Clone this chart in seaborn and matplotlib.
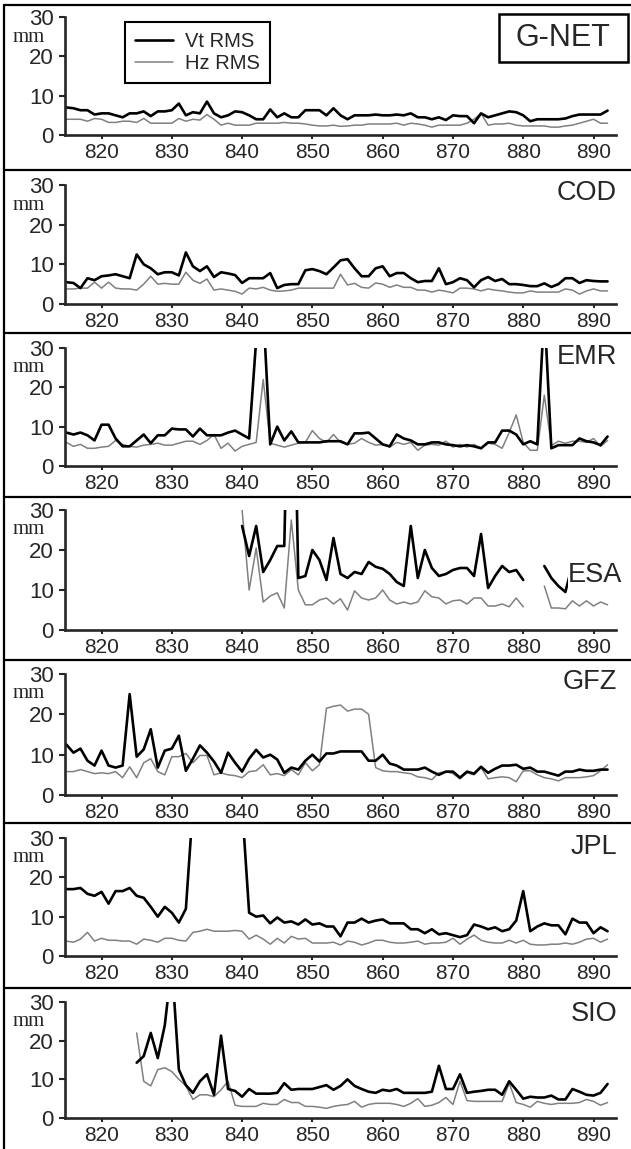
import numpy as np
import pandas as pd
import matplotlib
matplotlib.use('Agg')
import matplotlib.pyplot as plt
from matplotlib.lines import Line2D
from matplotlib.patches import Rectangle
import seaborn as sns

nan = np.nan
days = list(range(815, 893))

# G-NET
gnet_vt = [7, 6.8, 6.3, 6.3, 5.2, 5.5, 5.5, 5, 4.5, 5.5,
           5.5, 6, 4.8, 6, 6, 6.3, 8, 5, 5.8, 5.5,
           8.5, 5.5, 4.5, 5, 6, 5.8, 5, 4, 4, 6.5,
           4.5, 5.5, 4.5, 4.5, 6.3, 6.3, 6.3, 5, 6.8, 5,
           4, 5, 5, 5, 5.2, 5, 5, 5.2, 5, 5.5,
           4.5, 4.5, 4, 4.5, 3.8, 5, 4.8, 4.8, 3, 5.5,
           4.5, 5, 5.5, 6, 5.8, 5, 3.5, 4, 4, 4,
           4, 4.2, 4.8, 5.2, 5.2, 5.2, 5.2, 6.2]
gnet_hz = [4, 4, 4, 3.5, 4.2, 4, 3.2, 3.2, 3.5, 3.5,
           3.2, 4.2, 3, 3, 3, 3, 4.2, 3.5, 4, 3.8,
           5.2, 4, 2.5, 3, 2.5, 2.5, 2.5, 3, 3, 3,
           3, 3.2, 3, 3, 2.8, 2.5, 2.3, 2.3, 2.5, 2.2,
           2.3, 2.5, 2.5, 2.8, 2.8, 2.8, 2.8, 3, 2.5, 3,
           2.8, 2.5, 2, 2.5, 2.5, 2.5, 2.5, 3, 4, 5.5,
           2.5, 2.8, 2.8, 3, 2.5, 2.3, 2.3, 2.3, 2.3, 2,
           2, 2.3, 2.5, 3, 3.5, 4, 3, 3]

# COD
cod_vt = [5.5, 5.3, 4, 6.5, 6, 7, 7.2, 7.5, 7, 6.5,
          12.5, 10, 9, 7.5, 8, 8, 7.2, 13, 9.5, 8.3,
          9.5, 6.8, 8, 7.7, 7.3, 5.3, 6.5, 6.5, 6.5, 7.8,
          4, 4.8, 5, 5, 8.5, 8.8, 8.3, 7.5, 9.2, 11,
          11.3, 9, 7, 7, 9, 9.5, 7, 7.8, 7.8, 6.5,
          5.5, 5.8, 5.8, 9, 5, 5.5, 6.5, 6, 4.2, 6,
          6.8, 5.8, 6.3, 5, 5, 4.8, 4.5, 4.5, 5.2, 4.3,
          5, 6.5, 6.5, 5.3, 6, 5.8, 5.7, 5.7]
cod_hz = [3.8, 3.8, 4, 4, 5.5, 4, 5.5, 4, 3.8, 3.8,
          3.5, 5, 7, 5, 5.2, 5, 5, 8, 6, 5.2,
          6.3, 3.5, 3.8, 3.5, 3.2, 2.5, 4, 3.8, 4.2, 3.5,
          3.2, 3.3, 3.5, 4, 4, 4, 4, 4, 4, 7.5,
          4.8, 5.2, 4.2, 4, 5.3, 5, 4.2, 4.8, 4.2, 4.2,
          3.5, 3.5, 3, 3.5, 3.2, 2.8, 4, 4, 3.8, 3.3,
          3.8, 3.5, 3.3, 3, 2.8, 2.8, 3.3, 3, 3, 3,
          3, 3.8, 3.5, 2.5, 3.3, 3.8, 3.3, 3.3]

# EMR
emr_vt = [8.5, 8, 8.5, 7.8, 6.5, 10.5, 10.5, 7, 5, 5,
          6.5, 8, 5.8, 7.8, 7.8, 9.5, 9.3, 9.3, 7.5, 9.5,
          7.8, 7.8, 7.8, 8.5, 9, 8, 7, 32, 40, 5.5,
          10, 6.5, 8.8, 6, 6, 6, 6, 6.3, 6.3, 6.3,
          5.5, 8.3, 8.3, 8.5, 7, 5.5, 5, 8, 7, 6.5,
          5.5, 5.5, 6, 6, 5.5, 5.3, 5, 5.3, 5, 4.5,
          6, 6, 9, 9, 8, 5.5, 6.3, 5.5, 40, 4.5,
          5.3, 5.3, 5.3, 7, 6.3, 6, 5.3, 7.5]
emr_hz = [6, 5, 5.5, 4.5, 4.5, 4.8, 5, 6.5, 5.5, 5,
          4.8, 5.3, 5.5, 5.8, 5.3, 5.3, 5.8, 6.3, 6.3, 5.5,
          6.5, 8, 4.5, 5.8, 3.8, 5, 5.5, 6, 22, 5.8,
          5.3, 4.8, 5.3, 5.8, 6, 9, 7, 6, 8, 6,
          5.5, 5.8, 7, 6, 5.3, 5.5, 4.8, 6, 5.5, 6,
          4, 5.3, 5.5, 5.3, 6.3, 4.8, 5.5, 4.8, 5.5, 4.5,
          5.8, 5.5, 4.5, 8.5, 13, 6, 4, 4, 18, 5.2,
          6.3, 5.8, 6.3, 6.3, 6, 7, 5, 6.5]

# ESA (no solutions before day 840)
esa_vt = [nan] * 20 + [
          nan, nan, nan, nan, nan, 26, 18.5, 26, 14.5, 17.5,
          21, 21, 100, 13, 13.5, 20, 17.5, 12.5, 23, 14,
          13, 14.5, 14, 17, 15.8, 15.3, 14, 12, 11, 26,
          13, 20, 15.5, 13.5, 14, 15, 15.5, 15.5, 13.5, 24,
          10.5, 13.5, 16, 14.5, 15, 12.5, nan, nan, 16, 13,
          11, 9.5, 16.5, 14, 14, 14, 14, 14]
esa_hz = [nan] * 20 + [
          nan, nan, nan, nan, nan, 30, 10, 20.5, 7, 8.5,
          9.3, 5.5, 27.5, 10, 6.3, 6.3, 7.5, 8, 6.5, 7.8,
          5, 9.8, 8, 7.5, 8, 10, 7.5, 6.5, 7, 6.5,
          7, 9.8, 8.3, 8, 6.5, 7.3, 7.5, 6.5, 8, 8,
          6, 6, 6.5, 5.8, 8, 5.8, nan, nan, 11, 5.5,
          5.5, 5.3, 7.3, 6, 7.3, 6, 7, 6.3]

# GFZ
gfz_vt = [12.5, 10.5, 11.5, 8.5, 7.3, 11, 7.3, 6.8, 7.3, 25,
          9.5, 11.3, 16.3, 6.8, 11, 11.5, 14.7, 6, 9, 12.3,
          10.5, 8.3, 5.5, 10.5, 8, 5.8, 9, 11.2, 9.3, 10,
          8.8, 5.5, 6.8, 6.3, 8.5, 10, 8.3, 10.3, 10.3, 10.8,
          10.8, 10.8, 10.8, 8.5, 8.5, 10, 7.8, 7.3, 6.3, 6.3,
          6.3, 6.8, 5.8, 5, 5.8, 5.8, 4.3, 5.8, 5.3, 7,
          5.5, 6.5, 7.3, 7.3, 7.5, 6.5, 6.8, 5.8, 5.8, 5.3,
          4.8, 5.8, 5.8, 6.3, 6, 6, 6.3, 6.3]
gfz_hz = [5.8, 5.8, 6.3, 5.8, 5.3, 5.5, 5.3, 5.8, 4.3, 7,
          4.3, 8, 9, 5.8, 5, 9.5, 9.5, 10.3, 8, 9.8,
          9.8, 5, 5.5, 5, 4.8, 4.3, 5.8, 6, 7.5, 5,
          5.3, 4.8, 6.3, 5, 8, 6, 7.5, 21.5, 22, 22.3,
          20.8, 21.3, 21.3, 20, 6.8, 6, 5.8, 5.8, 5.5, 5.3,
          4.5, 4.3, 3.8, 5.5, 5.8, 5.3, 4, 5.5, 5, 6.8,
          4, 4.3, 4.5, 4.3, 3.3, 6, 6, 5, 4.3, 4,
          3.5, 4.3, 4.3, 4.3, 4.5, 4.8, 6, 7.5]

# JPL
jpl_vt = [17, 17, 17.3, 15.8, 15.3, 16.3, 13.3, 16.5, 16.5, 17.3,
          15.3, 14.8, 12.5, 10, 12.5, 11, 8.5, 12, 38, 40,
          40, 40, 40, 40, 40, 38, 11, 10, 10.3, 8.3,
          9.8, 8.5, 8.8, 8, 9.3, 8, 8.3, 7.5, 7.5, 5,
          8.5, 8.5, 9.5, 8.5, 9, 9.3, 8.3, 8.3, 8.3, 6.8,
          6.8, 5.8, 6.8, 5.5, 5.8, 5.3, 4.8, 5.3, 8, 7.5,
          6.8, 7.3, 6.3, 6.8, 9, 16.5, 6.3, 7.5, 8.3, 7.8,
          7.8, 5.5, 9.5, 8.5, 8.5, 5.8, 7.3, 6.3]
jpl_hz = [3.8, 3.5, 4.3, 6, 3.8, 4.5, 4, 4, 3.8, 3.8,
          3, 4.3, 4, 3.5, 4.5, 4.5, 4, 3.8, 6, 6.3,
          6.8, 6.3, 6.3, 6.3, 6.5, 6.3, 4.3, 5.3, 4.3, 3,
          4.5, 3.3, 5, 4.3, 4.5, 3.3, 3.3, 3.3, 3.5, 2.8,
          3.8, 3.5, 2.8, 3.3, 4, 4, 3.5, 3.3, 3.3, 3.5,
          3.8, 3, 3.3, 3.3, 3.5, 4.5, 3, 4.3, 5.3, 4,
          3.5, 3.3, 3.3, 4, 3.3, 4, 3, 2.8, 2.8, 3,
          3, 3.3, 3, 3.5, 4.3, 4.5, 3.5, 4.3]

# SIO (no solutions before day 825)
sio_vt = [nan] * 10 + [
          14.3, 16, 22, 15.5, 24, 40, 12.5, 8.5, 6.5, 9.5,
          11.3, 6, 21.3, 7.5, 7, 5.5, 7.5, 6.3, 6.3, 6.3,
          6.5, 9, 7.3, 7.5, 7.5, 7.5, 8, 8.5, 7.3, 8.3,
          10, 8.3, 7.5, 6.8, 6.5, 7.3, 7, 7.5, 6.5, 6.5,
          6.5, 6.5, 6.8, 13.5, 7.5, 7.5, 11.3, 6.5, 6.8, 7,
          7.3, 7.3, 6, 9.5, 7.3, 5, 5.5, 5.3, 5.3, 5.8,
          4.8, 4.8, 7.5, 6.8, 6, 5.8, 6.5, 8.8]
sio_hz = [nan] * 10 + [
          22, 9.5, 8.3, 12.5, 13, 12, 10, 8.3, 4.8, 6,
          6, 5.5, 7.3, 9.5, 3.3, 3, 3, 3, 3.8, 3.5,
          3.5, 4.8, 4, 4, 3, 3, 2.8, 2.5, 3, 3.3,
          3.5, 4.3, 2.8, 3.5, 3.8, 3.8, 3.8, 3.5, 3, 3.8,
          5, 3, 3.3, 4, 5.3, 3.5, 9.5, 4.5, 4.3, 4.3,
          4.3, 4.3, 4.3, 9, 4, 3.5, 2.8, 4.3, 3.8, 3.5,
          3.8, 3.8, 3.8, 4, 4.8, 4.3, 3.3, 4]

centres = ['G-NET', 'COD', 'EMR', 'ESA', 'GFZ', 'JPL', 'SIO']
vt_series = [gnet_vt, cod_vt, emr_vt, esa_vt, gfz_vt, jpl_vt, sio_vt]
hz_series = [gnet_hz, cod_hz, emr_hz, esa_hz, gfz_hz, jpl_hz, sio_hz]

sns.set_style('ticks')
plt.rcParams['font.family'] = ['Liberation Sans', 'DejaVu Sans']

W, H = 631, 1149
fig = plt.figure(figsize=(W / 100, H / 100), dpi=100)
fig.patch.set_facecolor('white')

# pixel layout of the scanned panels
ax_left, ax_right = 65, 616
y30 = [17, 185, 348, 510, 674, 838, 1002]
y0 = [135, 304, 466, 630, 795, 956, 1118]
label_y = [38, 193, 357, 575, 682, 847, 1014]
seps = [170, 333, 497, 660, 823, 988]

VT_COLOR, HZ_COLOR = 'black', '#808080'


def draw(ax, values, color, lw):
    df = pd.DataFrame({'day': days, 'mm': values})
    ok = df['mm'].notna()
    seg = (~ok).cumsum()
    # break the line where there is no data
    for _, part in df[ok].groupby(seg[ok]):
        sns.lineplot(data=part, x='day', y='mm', ax=ax, color=color, lw=lw)


for i, name in enumerate(centres):
    ax = fig.add_axes([ax_left / W, 1 - y0[i] / H,
                       (ax_right - ax_left) / W, (y0[i] - y30[i]) / H])
    ax.patch.set_alpha(0)
    draw(ax, hz_series[i], HZ_COLOR, 1.1)
    draw(ax, vt_series[i], VT_COLOR, 1.9)
    ax.set_xlim(814.8, 893.2)
    ax.set_ylim(0, 30)
    ax.set_xticks(range(820, 891, 10))
    ax.set_yticks([0, 10, 20, 30])
    ax.set_xlabel('')
    ax.set_ylabel('')
    sns.despine(ax=ax)
    for s in ['left', 'bottom']:
        ax.spines[s].set_linewidth(1.9)
    ax.tick_params(axis='y', length=4, width=1.5, pad=4, labelsize=16)
    ax.tick_params(axis='x', length=3, width=1.5, pad=3, labelsize=15)

    fig.text(29 / W, 1 - (y30[i] + 20) / H, 'mm', family='Liberation Serif',
             fontsize=15, ha='center', va='center')

    if name == 'G-NET':
        fig.text(563 / W, 1 - label_y[i] / H, name, fontsize=22,
                 ha='center', va='center')
        fig.add_artist(Rectangle((499 / W, 1 - 62 / H), 129 / W, 48 / H,
                                 transform=fig.transFigure, fill=False,
                                 ec='black', lw=1.8))
    elif name == 'ESA':
        # the label sits on top of the end of the Vt curve
        fig.text(622 / W, 1 - label_y[i] / H, name, fontsize=19.5,
                 ha='right', va='center',
                 bbox=dict(boxstyle='square,pad=0', fc='white', ec='none'))
    else:
        fig.text(617 / W, 1 - label_y[i] / H, name, fontsize=19.5,
                 ha='right', va='center')

handles = [Line2D([], [], color=VT_COLOR, lw=1.9),
           Line2D([], [], color=HZ_COLOR, lw=1.1)]
leg = fig.legend(handles, ['Vt RMS', 'Hz RMS'], loc='upper left',
                 bbox_to_anchor=(125 / W, 1 - 22 / H), borderaxespad=0,
                 fontsize=14.5, frameon=True, fancybox=False,
                 edgecolor='black', framealpha=1, handlelength=1.9,
                 labelspacing=0.15, borderpad=0.5, handletextpad=0.6)
leg.get_frame().set_linewidth(1.5)

# panel frames
fig.add_artist(Line2D([4 / W, 4 / W], [0, 1 - 5 / H], color='black', lw=1.6))
fig.add_artist(Line2D([4 / W, 1], [1 - 5 / H, 1 - 5 / H], color='black', lw=1.6))
for y in seps:
    fig.add_artist(Line2D([4 / W, 1], [1 - y / H, 1 - y / H],
                          color='black', lw=1.6))

fig.savefig('out.png', dpi=100)
